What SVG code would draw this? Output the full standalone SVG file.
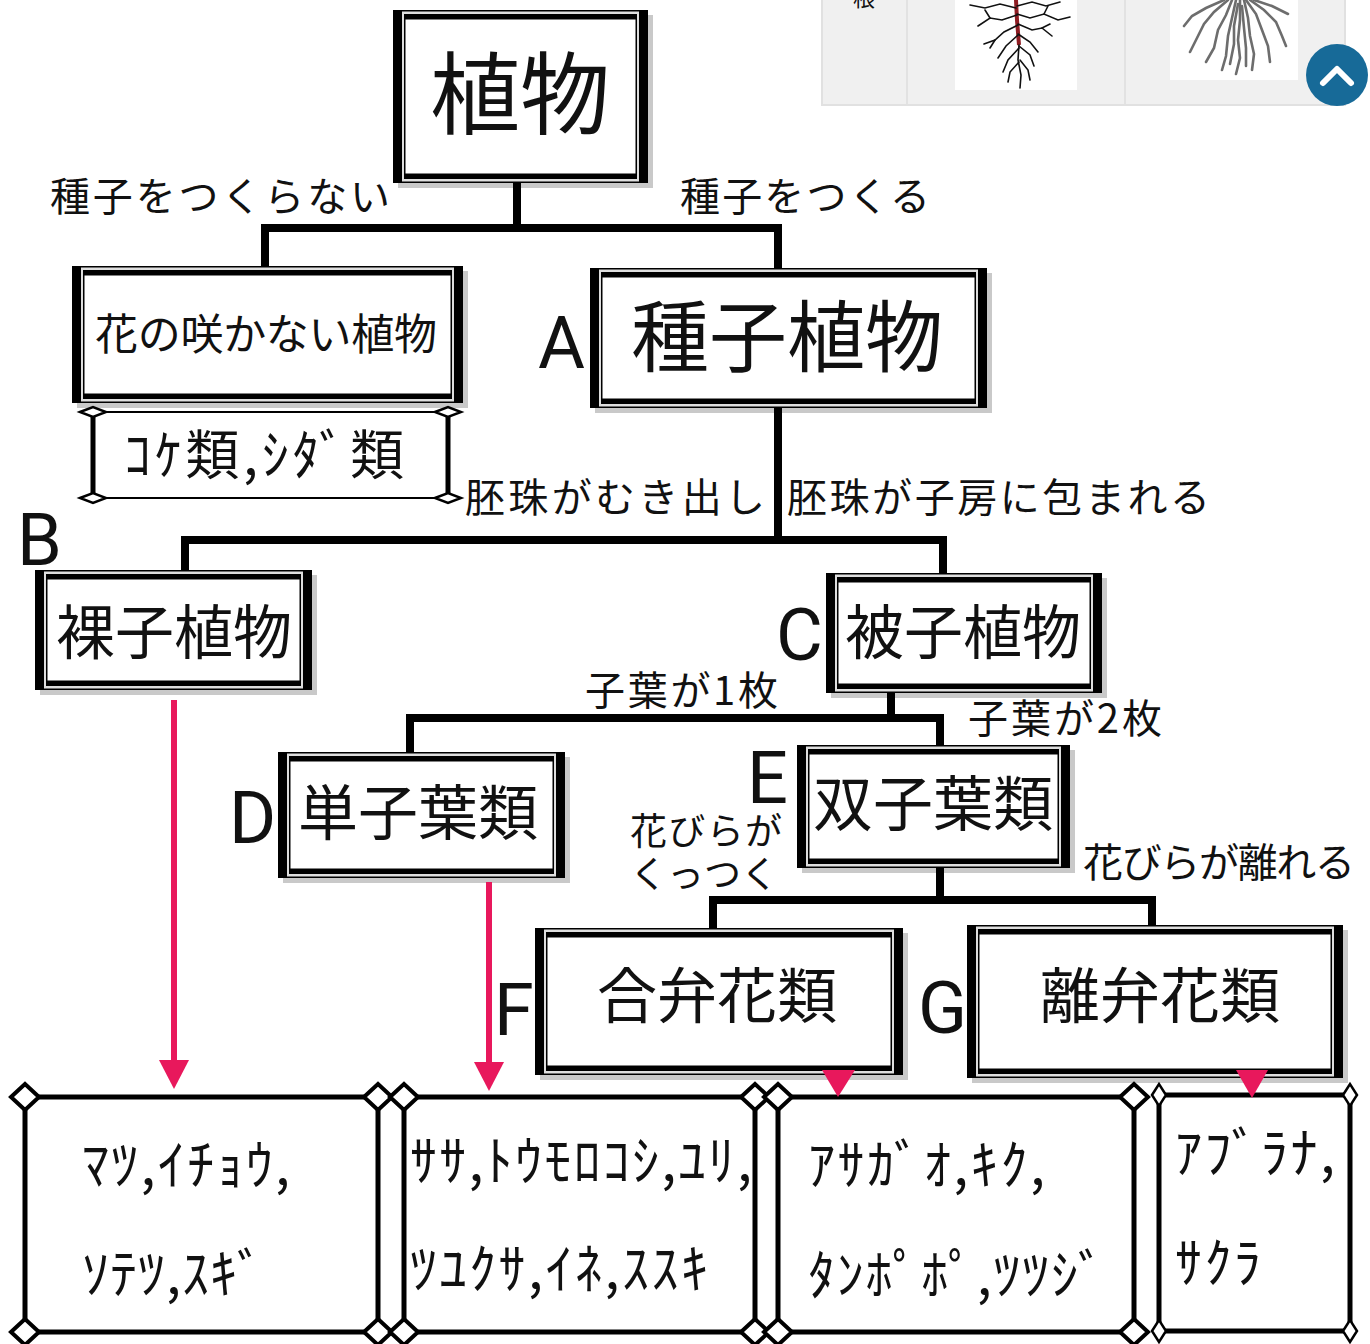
<svg xmlns="http://www.w3.org/2000/svg" width="1370" height="1344" viewBox="0 0 1370 1344">
  <style>
    .sh { fill: #c9c9c9; }
    .k { fill: #000; }
    .g { fill: #dedede; }
    .w { fill: #fff; }
    .jp { font-family: "Noto Sans CJK JP", "Noto Sans", sans-serif; fill: #111; }
    .big { text-anchor: middle; }
    .lbl { font-size: 40px; }
    .ltr { font-family: Roboto, "Liberation Sans", sans-serif; fill: #111; font-size: 72px; }
    .kana { font-family: "Noto Sans CJK JP", sans-serif; font-size: 54px; fill: #111; }
    .wire { fill: none; stroke: #000; stroke-width: 8; stroke-linejoin: miter; stroke-linecap: butt; }
    .red { fill: none; stroke: #e8185c; stroke-width: 6; }
    .redhead { fill: #e8185c; }
    .list { fill: #fff; stroke: #000; stroke-width: 5; }
    .dia { fill: #fff; stroke: #000; stroke-width: 4; }
    .dias { fill: #fff; stroke: #000; stroke-width: 2.5; }
    .root { fill: none; stroke: #111; stroke-width: 1.6; stroke-linecap: round; }
    .fib { fill: none; stroke: #6d6d6d; stroke-width: 2.6; stroke-linecap: round; }
  </style>
  <defs>
    <path id="diamond" d="M-14,0 L0,-13 L14,0 L0,13 Z"/>
    <path id="diamond-s" d="M-7,0 L0,-11 L7,0 L0,11 Z"/>
    <path id="flat" d="M-13,0 L0,-5 L13,0 L0,5 Z"/>
  </defs>

  <rect width="1370" height="1344" fill="#fff"/>

  <!-- corner strip: table of roots with scroll button -->
  <g id="root-table">
    <rect x="822" y="-3" width="523" height="108" fill="#f0f0f0" stroke="#e1e1e1" stroke-width="2"/>
    <line x1="907" y1="0" x2="907" y2="104" stroke="#e2e2e2" stroke-width="2"/>
    <line x1="1125" y1="0" x2="1125" y2="104" stroke="#e2e2e2" stroke-width="2"/>
    <text class="jp" x="853" y="6" font-size="22">根</text>
    <rect x="955" y="-2" width="122" height="92" fill="#fff"/>
    <rect x="1170" y="-2" width="128" height="82" fill="#fff"/>
    <!-- taproot -->
    <path d="M1016,0 L1017,20 L1019,45" fill="none" stroke="#8e1c22" stroke-width="4"/>
    <path class="root" d="M1019,45 L1018,60 L1021,75 L1020,88"/>
    <path class="root" d="M1016,8 L1000,4 L985,8 L970,5"/>
    <path class="root" d="M1017,15 L1002,20 L990,18 L978,26"/>
    <path class="root" d="M1018,25 L1004,32 L995,40 L984,44"/>
    <path class="root" d="M1018,35 L1006,46 L998,58"/>
    <path class="root" d="M1019,48 L1008,60 L1003,72"/>
    <path class="root" d="M1019,62 L1010,72 L1008,82"/>
    <path class="root" d="M1017,6 L1032,2 L1046,6 L1060,2"/>
    <path class="root" d="M1017,14 L1030,18 L1044,14 L1058,20 L1070,17"/>
    <path class="root" d="M1018,24 L1032,30 L1042,28 L1052,36"/>
    <path class="root" d="M1018,34 L1030,42 L1038,52"/>
    <path class="root" d="M1019,46 L1030,55 L1034,66"/>
    <path class="root" d="M1020,60 L1028,70 L1030,80"/>
    <path class="root" d="M990,18 L985,10"/>
    <path class="root" d="M1044,14 L1048,6"/>
    <path class="root" d="M995,40 L990,48"/>
    <path class="root" d="M1042,28 L1050,24"/>
    <!-- fibrous root -->
    <path class="fib" d="M1232,0 L1226,15 L1218,30 L1214,48 L1206,62"/>
    <path class="fib" d="M1236,0 L1232,18 L1228,36 L1226,56 L1222,70"/>
    <path class="fib" d="M1240,0 L1240,20 L1238,40 L1240,58 L1236,74"/>
    <path class="fib" d="M1244,0 L1248,18 L1250,36 L1254,54 L1252,70"/>
    <path class="fib" d="M1246,0 L1256,14 L1262,30 L1268,46 L1270,62"/>
    <path class="fib" d="M1228,0 L1214,12 L1204,24 L1196,40 L1190,52"/>
    <path class="fib" d="M1250,0 L1264,10 L1276,22 L1282,36 L1286,46"/>
    <path class="fib" d="M1224,0 L1206,8 L1192,16 L1184,26"/>
    <path class="fib" d="M1254,0 L1272,6 L1288,14"/>
    <path class="fib" d="M1238,4 L1234,26 L1234,44 L1230,64"/>
    <path class="fib" d="M1242,6 L1244,28 L1246,48 L1246,66"/>
    <circle cx="1337" cy="75" r="31" fill="#176a98"/>
    <polyline points="1323,83 1337,69 1351,83" fill="none" stroke="#fff" stroke-width="6" stroke-linecap="round" stroke-linejoin="round"/>
  </g>

  <!-- branch labels -->
  <g id="labels">
    <text class="jp lbl" x="50" y="211" textLength="340" lengthAdjust="spacing">種子をつくらない</text>
    <text class="jp lbl" x="680" y="211" textLength="250" lengthAdjust="spacing">種子をつくる</text>
    <text class="jp lbl" x="465" y="512" textLength="300" lengthAdjust="spacing">胚珠がむき出し</text>
    <text class="jp lbl" x="787" y="512" textLength="423" lengthAdjust="spacing">胚珠が子房に包まれる</text>
    <text class="jp lbl" x="585" y="705" textLength="193" lengthAdjust="spacing">子葉が1枚</text>
    <text class="jp lbl" x="968" y="733" textLength="194" lengthAdjust="spacing">子葉が2枚</text>
    <text class="jp" font-size="37"><tspan x="630" y="845" textLength="152" lengthAdjust="spacing">花びらが</tspan><tspan x="630" y="888" textLength="148" lengthAdjust="spacing">くっつく</tspan></text>
    <text class="jp lbl" x="1083" y="877" textLength="272" lengthAdjust="spacing">花びらが離れる</text>
    <text class="ltr" x="538" y="368">A</text>
    <text class="ltr" x="17" y="565" font-size="66">B</text>
    <text class="ltr" x="776" y="660">C</text>
    <text class="ltr" x="229" y="843">D</text>
    <text class="ltr" x="747" y="803" font-size="66">E</text>
    <text class="ltr" x="494" y="1035">F</text>
    <text class="ltr" x="918" y="1033">G</text>
  </g>

  <g id="plant">
    <rect class="sh" x="398" y="15" width="255" height="173"/>
    <rect class="k" x="393" y="10" width="255" height="173"/>
    <rect class="g" x="402" y="11.5" width="237" height="170"/>
    <rect class="k" x="404" y="14" width="233" height="165"/>
    <rect class="w" x="405.5" y="19.5" width="230" height="154"/>
    <text class="jp big" x="520" y="127" font-size="90">植物</text>
  </g>

  <g id="no-flower">
    <rect class="sh" x="77" y="271" width="391" height="137"/>
    <rect class="k" x="72" y="266" width="391" height="137"/>
    <rect class="g" x="81" y="267.5" width="373" height="134"/>
    <rect class="k" x="83" y="270" width="369" height="129"/>
    <rect class="w" x="84.5" y="275.5" width="366" height="118"/>
    <text class="jp big" x="266" y="350" font-size="43" textLength="342" lengthAdjust="spacing">花の咲かない植物</text>
  </g>

  <g id="moss-fern">
    <line x1="93" y1="412" x2="448" y2="412" stroke="#000" stroke-width="2"/>
    <line x1="93" y1="498" x2="448" y2="498" stroke="#000" stroke-width="2"/>
    <line x1="93" y1="412" x2="93" y2="498" stroke="#000" stroke-width="5"/>
    <line x1="448" y1="412" x2="448" y2="498" stroke="#000" stroke-width="5"/>
    <use href="#flat" class="dias" x="93" y="412"/>
    <use href="#flat" class="dias" x="448" y="412"/>
    <use href="#flat" class="dias" x="93" y="498"/>
    <use href="#flat" class="dias" x="448" y="498"/>
    <text class="kana" x="124" y="475" font-size="56" textLength="280" lengthAdjust="spacing">ｺｹ類,ｼﾀﾞ類</text>
  </g>

  <g id="seed-plant">
    <rect class="sh" x="595" y="273" width="397" height="140"/>
    <rect class="k" x="590" y="268" width="397" height="140"/>
    <rect class="g" x="599" y="269.5" width="379" height="137"/>
    <rect class="k" x="601" y="272" width="375" height="132"/>
    <rect class="w" x="602.5" y="277.5" width="372" height="121"/>
    <text class="jp big" x="787" y="366" font-size="78">種子植物</text>
  </g>

  <g id="gymnosperm">
    <rect class="sh" x="40" y="575" width="277" height="120"/>
    <rect class="k" x="35" y="570" width="277" height="120"/>
    <rect class="g" x="44" y="571.5" width="259" height="117"/>
    <rect class="k" x="46" y="574" width="255" height="112"/>
    <rect class="w" x="47.5" y="579.5" width="252" height="101"/>
    <text class="jp big" x="174" y="654" font-size="59">裸子植物</text>
  </g>

  <g id="angiosperm">
    <rect class="sh" x="831" y="578" width="276" height="120"/>
    <rect class="k" x="826" y="573" width="276" height="120"/>
    <rect class="g" x="835" y="574.5" width="258" height="117"/>
    <rect class="k" x="837" y="577" width="254" height="112"/>
    <rect class="w" x="838.5" y="582.5" width="251" height="101"/>
    <text class="jp big" x="963" y="654" font-size="59">被子植物</text>
  </g>

  <g id="monocot">
    <rect class="sh" x="283" y="757" width="287" height="126"/>
    <rect class="k" x="278" y="752" width="287" height="126"/>
    <rect class="g" x="287" y="753.5" width="269" height="123"/>
    <rect class="k" x="289" y="756" width="265" height="118"/>
    <rect class="w" x="290.5" y="761.5" width="262" height="107"/>
    <text class="jp big" x="418" y="835" font-size="60">単子葉類</text>
  </g>

  <g id="dicot">
    <rect class="sh" x="802" y="750" width="273" height="123"/>
    <rect class="k" x="797" y="745" width="273" height="123"/>
    <rect class="g" x="806" y="746.5" width="255" height="120"/>
    <rect class="k" x="808" y="749" width="251" height="115"/>
    <rect class="w" x="809.5" y="754.5" width="248" height="104"/>
    <text class="jp big" x="933" y="826" font-size="60">双子葉類</text>
  </g>

  <g id="sympetalous">
    <rect class="sh" x="540" y="933" width="368" height="147"/>
    <rect class="k" x="535" y="928" width="368" height="147"/>
    <rect class="g" x="544" y="929.5" width="350" height="144"/>
    <rect class="k" x="546" y="932" width="346" height="139"/>
    <rect class="w" x="547.5" y="937.5" width="343" height="128"/>
    <text class="jp big" x="717" y="1018" font-size="60">合弁花類</text>
  </g>

  <g id="choripetalous">
    <rect class="sh" x="972" y="930" width="376" height="153"/>
    <rect class="k" x="967" y="925" width="376" height="153"/>
    <rect class="g" x="976" y="926.5" width="358" height="150"/>
    <rect class="k" x="978" y="929" width="354" height="145"/>
    <rect class="w" x="979.5" y="934.5" width="351" height="134"/>
    <text class="jp big" x="1160" y="1018" font-size="60">離弁花類</text>
  </g>

  <!-- example lists -->
  <g id="list-gymno">
    <rect class="list" x="25" y="1097" width="353" height="235"/>
    <use href="#diamond" class="dia" x="25" y="1097"/>
    <use href="#diamond" class="dia" x="378" y="1097"/>
    <use href="#diamond" class="dia" x="25" y="1332"/>
    <use href="#diamond" class="dia" x="378" y="1332"/>
    <text class="kana" x="82" y="1185" textLength="208" lengthAdjust="spacing">ﾏﾂ,ｲﾁｮｳ,</text>
    <text class="kana" x="82" y="1294" textLength="182" lengthAdjust="spacing">ｿﾃﾂ,ｽｷﾞ</text>
  </g>

  <g id="list-mono">
    <rect class="list" x="404" y="1097" width="351" height="235"/>
    <use href="#diamond" class="dia" x="404" y="1097"/>
    <use href="#diamond" class="dia" x="755" y="1097"/>
    <use href="#diamond" class="dia" x="404" y="1332"/>
    <use href="#diamond" class="dia" x="755" y="1332"/>
    <text class="kana" x="410" y="1181" textLength="342" lengthAdjust="spacing">ｻｻ,ﾄｳﾓﾛｺｼ,ﾕﾘ,</text>
    <text class="kana" x="410" y="1289" textLength="298" lengthAdjust="spacing">ﾂﾕｸｻ,ｲﾈ,ｽｽｷ</text>
  </g>

  <g id="list-sym">
    <rect class="list" x="778" y="1097" width="356" height="235"/>
    <use href="#diamond" class="dia" x="778" y="1097"/>
    <use href="#diamond" class="dia" x="1134" y="1097"/>
    <use href="#diamond" class="dia" x="778" y="1332"/>
    <use href="#diamond" class="dia" x="1134" y="1332"/>
    <text class="kana" x="808" y="1185" textLength="237" lengthAdjust="spacing">ｱｻｶﾞｵ,ｷｸ,</text>
    <text class="kana" x="808" y="1295" textLength="297" lengthAdjust="spacing">ﾀﾝﾎﾟﾎﾟ,ﾂﾂｼﾞ</text>
  </g>

  <g id="list-chori">
    <rect class="list" x="1159" y="1095" width="191" height="236" stroke-width="3.5"/>
    <use href="#diamond-s" class="dias" x="1159" y="1095"/>
    <use href="#diamond-s" class="dias" x="1350" y="1095"/>
    <use href="#diamond-s" class="dias" x="1159" y="1331"/>
    <use href="#diamond-s" class="dias" x="1350" y="1331"/>
    <text class="kana" x="1175" y="1173" textLength="160" lengthAdjust="spacing">ｱﾌﾞﾗﾅ,</text>
    <text class="kana" x="1175" y="1283" textLength="86" lengthAdjust="spacing">ｻｸﾗ</text>
  </g>

  <!-- tree connectors and arrows, drawn over the frames -->
  <g id="connectors">
    <path class="wire" d="M517,183 V228"/>
    <path class="wire" d="M265,266 V228 H778 V268"/>
    <path class="wire" d="M778,408 V540"/>
    <path class="wire" d="M185,570 V540 H943 V573"/>
    <path class="wire" d="M891,693 V718"/>
    <path class="wire" d="M410,752 V718 H940 V745"/>
    <path class="wire" d="M940,868 V900"/>
    <path class="wire" d="M713,928 V900 H1152 V925"/>
    <path class="red" d="M174,700 V1062"/>
    <polygon class="redhead" points="159,1060 189,1060 174,1089"/>
    <path class="red" d="M489,882 V1064"/>
    <polygon class="redhead" points="474,1062 504,1062 489,1091"/>
    <polygon class="redhead" points="822,1070 855,1070 838,1097"/>
    <polygon class="redhead" points="1236,1070 1268,1070 1252,1098"/>
  </g>
</svg>
